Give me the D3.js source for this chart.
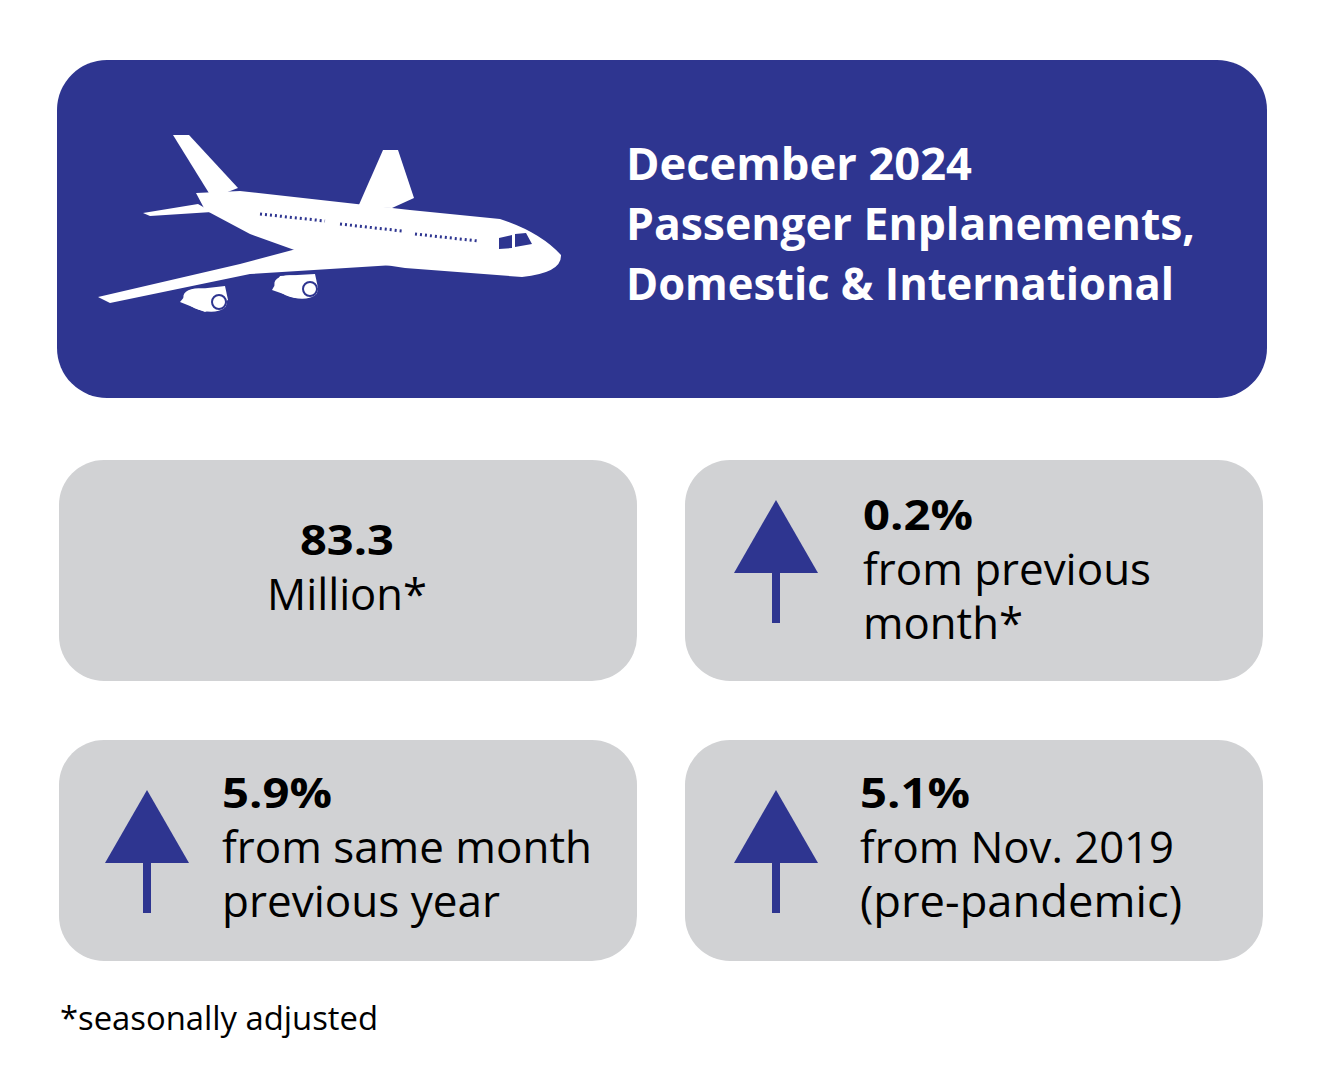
<!DOCTYPE html>
<html><head><meta charset="utf-8">
<script src="https://cdn.jsdelivr.net/npm/d3@7"></script>
<style>body{margin:0;background:#fff}</style>
</head><body>
<script>
// header text
var titleLines = ["December 2024", "Passenger Enplanements,", "Domestic & International"];
// card values and labels
var cardValues = ["83.3", "0.2%", "5.9%", "5.1%"];
var cardLabels = [["Million*"], ["from previous", "month*"], ["from same month", "previous year"], ["from Nov. 2019", "(pre-pandemic)"]];
var cardArrow = [false, true, true, true];
var footnote = "*seasonally adjusted";

var W = 1327, H = 1077;
var navy = "#2e3590", grey = "#d1d2d4";
var font = "'Open Sans', 'Noto Sans', sans-serif";

var svg = d3.select("body").append("svg").attr("width", W).attr("height", H);

// header box
svg.append("rect").attr("x", 57).attr("y", 60).attr("width", 1210).attr("height", 338)
  .attr("rx", 50).attr("fill", navy);

// plane (rough silhouette)
var plane = svg.append("g").attr("fill", "#fff");
plane.append("path").attr("d", "M173,135 L189,135 L238,188 L212,198 Z");
plane.append("path").attr("d", "M143,213 L198,204 L212,212 L150,216 Z");
plane.append("path").attr("d", "M383,150 L398,150 L414,198 L392,208 L358,207 Z");
plane.append("path").attr("d", "M196,193 L240,191 L410,210 L500,219 Q540,232 561,255 Q562,273 522,277 L405,268 L300,252 L250,234 L205,210 Z");
plane.append("path").attr("d", "M330,240 L410,264 L250,274 L110,303 L98,297 L240,264 Z");
plane.append("path").attr("d", "M190,290 L225,286 L228,300 L205,312 L180,302 Z");
plane.append("path").attr("d", "M280,276 L315,274 L318,288 L295,298 L272,290 Z");
plane.append("ellipse").attr("cx", 205).attr("cy", 300).attr("rx", 22).attr("ry", 11).attr("transform", "rotate(12,205,300)");
plane.append("ellipse").attr("cx", 296).attr("cy", 287).attr("rx", 22).attr("ry", 11).attr("transform", "rotate(12,296,287)");
plane.append("circle").attr("cx", 219).attr("cy", 302).attr("r", 7).attr("fill", "none").attr("stroke", navy).attr("stroke-width", 2);
plane.append("circle").attr("cx", 310).attr("cy", 289).attr("r", 7).attr("fill", "none").attr("stroke", navy).attr("stroke-width", 2);
[[260, 214, 325, 221], [340, 224, 402, 231], [415, 234, 478, 241]].forEach(function (s) {
  svg.append("line").attr("x1", s[0]).attr("y1", s[1]).attr("x2", s[2]).attr("y2", s[3])
    .attr("stroke", navy).attr("stroke-width", 3).attr("stroke-dasharray", "2,3");
});
svg.append("path").attr("d", "M499,238 L512,235 L512,248 L499,249 Z M515,234 L526,233 L532,244 L515,247 Z").attr("fill", navy);

// title
svg.append("g").selectAll("text").data(titleLines).join("text")
  .attr("x", 626).attr("y", function (d, i) { return 180 + i * 60; })
  .attr("fill", "#fff").attr("font-family", font).attr("font-weight", 700)
  .attr("font-size", 44)
  .attr("textLength", function (d, i) { return [346, 569, 548][i]; })
  .attr("lengthAdjust", "spacingAndGlyphs")
  .text(function (d) { return d; });

// cards
var cardPos = [[59, 460], [685, 460], [59, 740], [685, 740]];
var textX = [null, 863, 222, 860];
var arrowX = [null, 776, 147, 776];
var arrowTop = [null, 40, 50, 50];
var widths = { "0.2%": 110, "5.9%": 110, "5.1%": 110 };
cardPos.forEach(function (p, i) {
  var g = svg.append("g");
  g.append("rect").attr("x", p[0]).attr("y", p[1]).attr("width", 578).attr("height", 221)
    .attr("rx", 45).attr("fill", grey);
  if (!cardArrow[i]) {
    g.append("text").attr("x", p[0] + 288).attr("y", p[1] + 95).attr("text-anchor", "middle")
      .attr("font-family", font).attr("font-weight", 700).attr("font-size", 42)
      .attr("textLength", 94).attr("lengthAdjust", "spacingAndGlyphs").text(cardValues[i]);
    g.append("text").attr("x", p[0] + 288).attr("y", p[1] + 150).attr("text-anchor", "middle")
      .attr("font-family", font).attr("font-size", 44).attr("textLength", 160).attr("lengthAdjust", "spacingAndGlyphs")
      .text(cardLabels[i][0]);
    return;
  }
  var ax = arrowX[i], top = p[1] + arrowTop[i];
  g.append("path").attr("d", "M" + ax + "," + top + " L" + (ax + 42) + "," + (top + 73) + " L" + (ax - 42) + "," + (top + 73) + " Z").attr("fill", navy);
  g.append("rect").attr("x", ax - 4).attr("y", top + 72).attr("width", 8).attr("height", 51).attr("fill", navy);
  var base = i === 1 ? p[1] + 70 : p[1] + 68;
  g.append("text").attr("x", textX[i]).attr("y", base)
    .attr("font-family", font).attr("font-weight", 700).attr("font-size", 42)
    .attr("textLength", widths[cardValues[i]]).attr("lengthAdjust", "spacingAndGlyphs").text(cardValues[i]);
  var lw = { "from previous": 288, "month*": 160, "from same month": 370, "previous year": 278, "from Nov. 2019": 314, "(pre-pandemic)": 322 };
  cardLabels[i].forEach(function (l, j) {
    g.append("text").attr("x", textX[i]).attr("y", base + 55 + j * 54)
      .attr("font-family", font).attr("font-size", 44)
      .attr("textLength", lw[l]).attr("lengthAdjust", "spacingAndGlyphs").text(l);
  });
});

svg.append("text").attr("x", 60).attr("y", 1030).attr("font-family", font).attr("font-size", 33)
  .attr("textLength", 318).attr("lengthAdjust", "spacingAndGlyphs").text(footnote);
</script>
</body></html>
